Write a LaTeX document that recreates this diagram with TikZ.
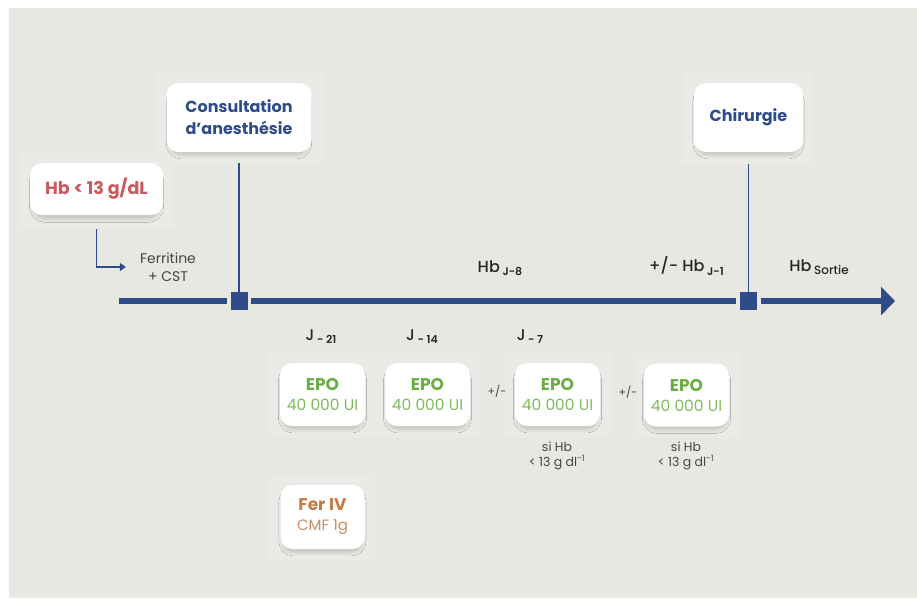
\documentclass[tikz,border=0pt]{standalone}
\usepackage{fontspec}
\setmainfont{Poppins}
\newfontfamily\medfont{Poppins}[UprightFont={* Medium}, BoldFont={* SemiBold}]
\usetikzlibrary{arrows.meta, shadows.blur}

\definecolor{bg}{HTML}{E8E8E3}
\definecolor{halo}{HTML}{EAEAE6}
\definecolor{navy}{HTML}{2F4C8A}
\definecolor{rose}{HTML}{C95B5F}
\definecolor{leaf}{HTML}{6BAE45}
\definecolor{leaflight}{HTML}{80BB5E}
\definecolor{rust}{HTML}{C47C45}
\definecolor{rustlight}{HTML}{C88E62}
\definecolor{ink}{HTML}{454545}

% subscript used in the time-line labels
\newcommand{\lowidx}[2][11]{\raisebox{-3.2pt}{\fontsize{#1}{#1}\selectfont #2}}

\tikzset{
  card/.style={fill=white, rounded corners=12pt, inner sep=0pt, align=center,
    blur shadow={shadow xshift=0pt, shadow yshift=-5pt, shadow scale=0.95,
                 shadow blur radius=4pt, shadow opacity=18}},
  epocard/.style={card, minimum width=85pt, minimum height=63pt,
    font=\fontsize{15.5}{20}\selectfont, text=leaflight},
  halobox/.style={fill=halo, inner sep=0pt},
  tick/.style={fill=navy, minimum width=17pt, minimum height=18pt, inner sep=0pt},
  axis/.style={navy, line width=6pt},
  stem/.style={navy, line width=1.8pt},
  daylbl/.style={font=\fontsize{15.5}{15}\medfont, text=black!85, inner sep=0pt},
  hblbl/.style={font=\fontsize{16}{16}\medfont, text=black!85, inner sep=0pt},
  note/.style={font=\fontsize{12.5}{15}\selectfont, text=ink, align=center, inner sep=0pt},
  pmlbl/.style={font=\fontsize{11}{11}\selectfont, text=ink, inner sep=0pt},
}

\begin{document}
\begin{tikzpicture}[x=1pt, y=-1pt]
\useasboundingbox (0,0) rectangle (917,598);
\fill[white] (0,0) rectangle (917,598);
\fill[bg] (9,8) rectangle (917,598);

% light halos behind the cards
\foreach \cx/\cy/\w/\h in {96.5/189/155/76, 239.5/117.5/167/93, 747.5/117.5/131/93,
    322.5/394.5/105/85, 427.5/394.5/105/85, 557.5/394.5/105/85, 686.5/395/105/85,
    322.5/517/105/86}
  \node[halobox, minimum width=\w pt, minimum height=\h pt] at (\cx,\cy) {};

% cards
\node[card, minimum width=133pt, minimum height=52pt, text=rose,
      font=\fontsize{17.5}{17}\bfseries] (hb) at (96.5,189) {Hb < 13 g/dL};
\node[card, minimum width=145pt, minimum height=69pt, text=navy,
      font=\fontsize{16}{22}\bfseries] (consult) at (239,117.5) {Consultation\\d'anesthésie};
\node[card, minimum width=109pt, minimum height=69pt, text=navy,
      font=\fontsize{16}{22}\bfseries] (chir) at (748.5,117.5) {Chirurgie};

\node[epocard] (epoA) at (322.5,394.5) {{\fontsize{17}{20}\bfseries\color{leaf}EPO}\\40 000 UI};
\node[epocard] (epoB) at (427.5,394.5) {{\fontsize{17}{20}\bfseries\color{leaf}EPO}\\40 000 UI};
\node[epocard] (epoC) at (557.5,394.5) {{\fontsize{17}{20}\bfseries\color{leaf}EPO}\\40 000 UI};
\node[epocard] (epoD) at (686.5,395) {{\fontsize{17}{20}\bfseries\color{leaf}EPO}\\40 000 UI};
\node[card, minimum width=84pt, minimum height=64pt, text=rustlight,
      font=\fontsize{15}{20}\selectfont] (fer) at (322.5,517)
      {{\fontsize{17}{20}\bfseries\color{rust}Fer IV}\\CMF 1g};

% time line
\node[tick] (sqA) at (239,301) {};
\node[tick] (sqB) at (748.5,301) {};
\coordinate (start) at (119,301);
\coordinate (tip) at (895,301);
\draw[axis, shorten >=3.5pt] (start) -- (sqA.west);
\draw[axis, shorten <=3.5pt, shorten >=4pt] (sqA.east) -- (sqB.west);
\draw[axis, shorten <=4pt, -{Triangle[length=14pt, width=28pt]}] (sqB.east) -- (tip);

\draw[stem, shorten <=11pt] (consult.south) -- (sqA.north);
\draw[stem, shorten <=12pt] (chir.south) -- (sqB.north);

% first work-up
\node[font=\fontsize{14}{18}\selectfont, text=ink, align=center, inner sep=0pt]
  (ferr) at (168,267) {Ferritine\\+ CST};
\draw[navy, line width=1.3pt, shorten <=14pt, shorten >=14pt,
      -{Triangle[length=6pt, width=8pt]}] (hb.south) |- (ferr.west);

% labels above the axis
\node[hblbl] (hbA) at (500,268) {Hb\,\lowidx{\bfseries J-8}};
\node[hblbl] (hbB) at (686.5,266) {+/- Hb\,\lowidx{\bfseries J-1}};
\node[hblbl] (hbC) at (819,267) {Hb\,\lowidx[12]{Sortie}};

% days
\node[daylbl] (dA) at (321,337) {J\,\lowidx[11]{\bfseries - 21}};
\node[daylbl] (dB) at (422,337) {J\,\lowidx[11]{\bfseries - 14}};
\node[daylbl] (dC) at (530,337) {J\,\lowidx[11]{\bfseries - 7}};

% optional doses
\node[pmlbl] (pmA) at (497,391) {+/-};
\node[pmlbl] (pmB) at (628,392) {+/-};
\node[note] (nC) at (557,455.5) {si Hb\\< 13 g dl\textsuperscript{-1}};
\node[note] (nD) at (686,455.5) {si Hb\\< 13 g dl\textsuperscript{-1}};
\end{tikzpicture}
\end{document}
